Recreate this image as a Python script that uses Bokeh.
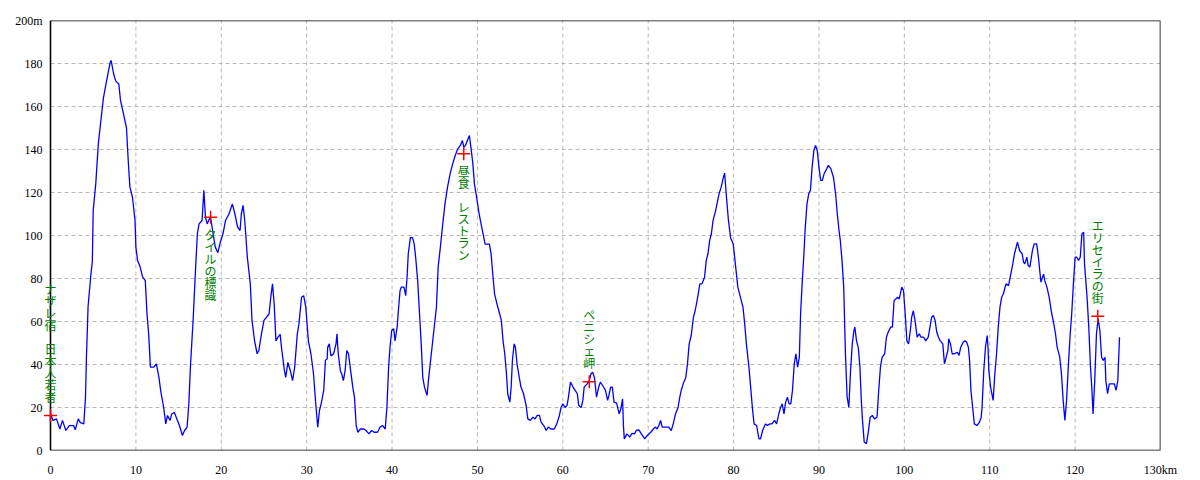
from bokeh.plotting import figure
from bokeh.models import FixedTicker, ColumnDataSource, Range1d
from bokeh.core.properties import value
from bokeh.embed import file_html
from bokeh.resources import INLINE

# ---- data ----
distance_km = [
    0, 0.3, 0.7, 1.1, 1.4, 1.8, 2.2, 2.7, 2.9, 3.25, 3.5, 3.9, 4.1, 4.2, 4.4, 4.7, 4.9, 5.0, 5.3, 5.6,
    5.9, 6.2, 6.5, 6.8, 7.0, 7.1, 7.4, 7.65, 8.0, 8.2, 8.55, 8.9, 9.1, 9.3, 9.6, 9.9, 10.0, 10.2, 10.5, 10.8,
    11.1, 11.3, 11.5, 11.7, 12.1, 12.4, 12.7, 12.9, 13.25, 13.5, 13.7, 14.0, 14.2, 14.5, 14.8, 15.1, 15.45, 15.7, 16.0, 16.2,
    16.4, 16.7, 17.0, 17.2, 17.4, 17.75, 17.96, 18.15, 18.35, 18.7, 18.8, 19.05, 19.3, 19.6, 19.9, 20.2, 20.5, 20.9, 21.3, 21.6,
    21.9, 22.2, 22.35, 22.55, 22.75, 23.05, 23.4, 23.6, 23.9, 24.2, 24.4, 24.7, 25.0, 25.3, 25.6, 25.8, 26.0, 26.2, 26.4, 26.65,
    26.9, 27.05, 27.4, 27.55, 27.8, 28.1, 28.35, 28.6, 28.9, 29.1, 29.4, 29.65, 29.9, 30.2, 30.5, 30.8, 31.1, 31.3, 31.5, 31.7,
    32.0, 32.2, 32.4, 32.46, 32.65, 32.85, 33.16, 33.44, 33.55, 33.7, 33.95, 34.1, 34.3, 34.5, 34.7, 34.9, 35.1, 35.4, 35.6, 35.8,
    36.0, 36.3, 36.7, 36.95, 37.3, 37.6, 37.9, 38.3, 38.6, 38.9, 39.2, 39.4, 39.6, 39.76, 39.96, 40.2, 40.35, 40.6, 40.74, 40.94,
    41.1, 41.4, 41.6, 41.76, 41.9, 42.15, 42.4, 42.6, 42.8, 43.0, 43.2, 43.4, 43.6, 43.8, 44.1, 44.26, 44.6, 44.9, 45.2, 45.4,
    45.66, 45.9, 46.2, 46.5, 46.8, 47.1, 47.4, 47.7, 48.0, 48.24, 48.4, 48.6, 48.9, 49.06, 49.26, 49.45, 49.65, 49.96, 50.2, 50.5,
    50.66, 50.9, 51.4, 51.6, 51.8, 52.0, 52.3, 52.6, 52.8, 53.0, 53.2, 53.4, 53.55, 53.8, 53.95, 54.1, 54.3, 54.45, 54.65, 54.9,
    55.1, 55.4, 55.7, 55.9, 56.2, 56.5, 56.75, 57.0, 57.26, 57.46, 57.77, 58.05, 58.3, 58.6, 59.0, 59.3, 59.6, 59.8, 60.0, 60.27,
    60.5, 60.66, 60.9, 61.2, 61.45, 61.7, 61.86, 62.15, 62.35, 62.5, 62.85, 63.1, 63.3, 63.5, 63.7, 63.95, 64.2, 64.4, 64.7, 65.0,
    65.25, 65.4, 65.6, 65.8, 66.0, 66.3, 66.6, 66.8, 67.0, 67.1, 67.2, 67.5, 67.85, 68.1, 68.4, 68.6, 68.9, 69.2, 69.6, 69.9,
    70.3, 70.6, 70.86, 71.05, 71.25, 71.45, 71.64, 72.0, 72.4, 72.7, 72.93, 73.2, 73.5, 73.7, 73.87, 74.1, 74.4, 74.6, 74.8, 75.04,
    75.3, 75.5, 75.8, 76.05, 76.3, 76.6, 76.8, 77.0, 77.2, 77.4, 77.6, 77.9, 78.1, 78.3, 78.55, 78.8, 78.95, 79.2, 79.4, 79.65,
    79.96, 80.25, 80.5, 80.8, 81.1, 81.3, 81.5, 81.8, 82.0, 82.2, 82.4, 82.7, 82.97, 83.16, 83.4, 83.75, 83.95, 84.26, 84.5, 84.8,
    85.04, 85.3, 85.5, 85.7, 85.9, 86.1, 86.3, 86.5, 86.7, 86.9, 87.1, 87.3, 87.5, 87.7, 87.85, 88.05, 88.24, 88.4, 88.6, 88.8,
    89.0, 89.2, 89.4, 89.6, 89.8, 90.0, 90.2, 90.4, 90.6, 90.9, 91.1, 91.4, 91.7, 91.95, 92.15, 92.35, 92.5, 92.7, 92.9, 93.1,
    93.3, 93.5, 93.7, 93.9, 94.1, 94.2, 94.4, 94.6, 94.8, 94.96, 95.1, 95.3, 95.55, 95.75, 96.0, 96.25, 96.5, 96.8, 97.0, 97.2,
    97.4, 97.7, 97.9, 98.1, 98.4, 98.6, 98.8, 99.0, 99.2, 99.4, 99.7, 99.9, 100.1, 100.3, 100.5, 100.7, 100.86, 101.05, 101.25, 101.5,
    101.75, 101.95, 102.26, 102.5, 102.8, 103.0, 103.2, 103.4, 103.6, 103.8, 104.0, 104.2, 104.5, 104.7, 104.9, 105.1, 105.2, 105.4, 105.6, 105.85,
    106.2, 106.4, 106.6, 106.9, 107.1, 107.3, 107.5, 107.64, 107.8, 108.0, 108.2, 108.5, 108.8, 109.0, 109.1, 109.3, 109.5, 109.7, 109.8, 109.9,
    110.1, 110.4, 110.6, 110.8, 111.0, 111.2, 111.4, 111.6, 111.9, 112.2, 112.4, 112.7, 112.9, 113.25, 113.5, 113.8, 113.96, 114.1, 114.35, 114.5,
    114.7, 115.0, 115.2, 115.5, 115.7, 115.9, 116.0, 116.3, 116.45, 116.7, 116.96, 117.2, 117.5, 117.7, 117.9, 118.2, 118.4, 118.6, 118.8, 119.0,
    119.2, 119.4, 119.6, 119.8, 120.0, 120.2, 120.4, 120.6, 120.8, 121.0, 121.1, 121.4, 121.6, 121.8, 121.95, 122.1, 122.3, 122.5, 122.7, 122.9,
    123.1, 123.3, 123.5, 123.6, 123.8, 124.0, 124.4, 124.6, 124.8, 125.0, 125.2,
]
elevation_m = [
    17, 14, 14.7, 10, 14, 9.3, 11.6, 11.6, 9.6, 14.7, 13, 12.4, 24.8, 42, 67, 80.6, 88, 111.6, 124, 142.6,
    153.5, 164, 170.5, 176.7, 180.6, 181.4, 175, 171.8, 170.5, 162.8, 156.6, 150, 135, 122.5, 117.8, 107, 94.6, 88.4, 85.3, 80.6,
    79, 63.6, 54, 38.8, 38.8, 40.3, 34, 28, 20, 12.4, 16.3, 14, 17, 17.8, 14.7, 11.6, 7, 9.3, 10.9, 21.7,
    40, 60.5, 85.3, 100.8, 105.4, 107, 121, 108.5, 105.4, 108.5, 107, 100.8, 94.6, 92, 97, 100.8, 107, 110, 114.7, 110,
    104, 102.3, 110, 114, 107, 90, 77.5, 60.5, 51, 45, 46.5, 54, 60.5, 62, 63.6, 71.3, 77.5, 68, 51, 52.7,
    54, 48, 37, 34, 41, 37, 32.5, 38.8, 54, 59, 71.3, 72, 66.7, 51, 45, 35.7, 20, 10.8, 18.6, 21.7,
    28, 42, 42.6, 48, 49.6, 44, 45, 49.6, 54.3, 45, 37, 35.7, 32.5, 37, 46.5, 45, 38.8, 29.5, 24.8, 11.6,
    8.5, 10, 10, 9.3, 7.75, 9.3, 8.5, 8.5, 10.9, 11.6, 10, 20, 38.8, 48, 55.8, 56.6, 51, 57.4, 65, 74.4,
    76, 76, 72, 80.6, 91.5, 99, 99, 96, 88.4, 79, 65, 51, 34, 29.5, 25.6, 32.5, 45, 55.8, 66.7, 85.3,
    94.6, 103.9, 114.7, 122.5, 128.7, 133.3, 137.2, 140.3, 141.9, 144.2, 141, 141.9, 145, 146.5, 140.3, 134, 124, 116.3, 110, 104,
    100.8, 96, 96, 91.5, 82, 73, 68, 63.6, 60.5, 51, 45, 35.7, 26.4, 22.5, 29.5, 42, 49.6, 48, 40, 34,
    29.5, 26.4, 21, 14.7, 14, 15.5, 14.7, 16.3, 16.3, 13.2, 11.6, 9.3, 10.9, 10, 10, 12.4, 16.3, 20, 21.7, 20,
    21, 24.8, 31.8, 29.5, 28, 26.4, 21, 20, 23.3, 29.5, 31, 32.5, 35.7, 36.4, 34, 24.8, 29.5, 31.8, 30, 28,
    23.3, 25.6, 29.5, 29.5, 22.5, 22, 17, 19.4, 24, 11.6, 5.4, 7.75, 6.2, 8, 7.75, 9.3, 9.6, 7.75, 5.4, 7,
    8.5, 10, 10.9, 10, 11.6, 14, 10.9, 10.9, 10.9, 9.3, 12.4, 17, 20, 24.8, 28, 31, 34, 40.3, 49.6, 53.5,
    62, 65, 71.3, 77.5, 77.5, 80.6, 88.4, 91.5, 97.7, 100.8, 107, 111.6, 115.5, 119.4, 122.5, 127, 129, 116.3, 107, 99,
    96, 85.3, 76, 71.3, 66.7, 59, 49.6, 38.8, 29.5, 20, 12.4, 11.6, 5.4, 5.4, 9.3, 12.4, 11.6, 12.4, 12.4, 14,
    12.4, 17, 20, 21.7, 17, 22.5, 24.8, 21.7, 21.7, 28, 40, 45, 38.8, 43.4, 63.6, 79, 91.5, 104, 114.7, 119.4,
    121, 131.8, 139.5, 141.9, 139.5, 131.8, 125.6, 125.6, 128.7, 131, 132.6, 131, 127, 119.4, 110, 102.3, 97.7, 88.4, 76, 45,
    24.8, 20, 37, 49.6, 55.8, 57.4, 51, 48, 38.8, 23.3, 14, 3.9, 3.1, 7.75, 15.5, 16.3, 14.7, 15.5, 28, 38.8,
    43.4, 45, 52.7, 55, 57.4, 57.4, 69.8, 70.5, 71.3, 70.5, 76, 74.4, 63.6, 51, 49.6, 55.8, 62, 65, 60.5, 52.7,
    54.3, 52.7, 52.7, 51, 52.7, 57.4, 62, 62.8, 60.5, 55, 52.7, 51, 49.6, 40.3, 43.4, 46.5, 52, 49.6, 45, 45,
    45.7, 44.2, 48, 50.4, 51, 50.4, 48, 41.9, 28, 20, 12.4, 11.6, 13.2, 15.5, 20, 37, 48, 53.5, 48, 37,
    29.5, 23.3, 35.7, 45, 57.4, 66.7, 71.3, 72.9, 77.5, 76.7, 80.6, 86.8, 91.5, 96.9, 93, 91.5, 87.6, 86.8, 89.9, 86,
    85.3, 93, 96.1, 96.1, 89.9, 82, 78.3, 82, 79, 76, 71.3, 65, 59, 54.3, 48, 43.4, 35.7, 23.3, 14, 23.3,
    38.8, 52.7, 63.6, 77.5, 89.9, 89.9, 88.4, 89.9, 100.8, 101.5, 86.8, 71.3, 57.4, 38.8, 29.5, 17, 32.5, 54.3, 61.2, 55.8,
    43.4, 41.9, 43.4, 32.5, 26.4, 31, 31, 31, 28, 32.5, 52.7,
]

marker_km = [0, 18.75, 48.4, 63.1, 122.65]
marker_m = [16.3, 108.5, 138, 32, 62.5]
marker_labels = ["ナザレ宿　日本人若者", "タイルの標識", "昼食　レストラン", "ペニシェ岬", "エリセイラの街"]
label_side = ["up", "down", "down", "up", "up"]

x_ticks = list(range(0, 131, 10))
y_ticks = list(range(0, 201, 20))
x_tick_labels = {t: str(t) for t in x_ticks}
x_tick_labels[130] = "130km"
y_tick_labels = {t: str(t) for t in y_ticks}
y_tick_labels[200] = "200m"

# ---- geometry ----
X0, X1, Y0, Y1 = 0, 130, 0, 200
PW, PH = 1110, 430          # pixel size of the 0..130 x 0..200 box
PAD_L = 7                   # extra frame room at left so the first label is not clipped
px_per_km = PW / (X1 - X0)
XL = X0 - PAD_L / px_per_km

p = figure(frame_width=PW + PAD_L, frame_height=PH,
           min_border_left=50 - PAD_L, min_border_right=30, min_border_top=20, min_border_bottom=28,
           x_range=Range1d(XL, X1), y_range=Range1d(Y0, Y1),
           output_backend="svg", toolbar_location=None,
           background_fill_color="white", border_fill_color="white")

p.outline_line_color = None
p.xgrid.visible = False
p.ygrid.visible = False

for ax in (p.xaxis[0], p.yaxis[0]):
    ax.axis_line_color = None
    ax.major_tick_line_color = None
    ax.minor_tick_line_color = None
    ax.major_label_text_font = "Liberation Sans Narrow"
    ax.major_label_text_font_size = "12px"
    ax.major_label_text_color = "black"
p.xaxis[0].major_label_standoff = 6
p.yaxis[0].major_label_standoff = -5

p.xaxis[0].ticker = FixedTicker(ticks=x_ticks)
p.yaxis[0].ticker = FixedTicker(ticks=y_ticks)
p.xaxis[0].major_label_overrides = x_tick_labels
p.yaxis[0].major_label_overrides = y_tick_labels

# dashed grid, bounded to the data box
inner_x = x_ticks[1:-1]
inner_y = y_ticks[1:-1]
p.segment(x0=inner_x, y0=[Y0] * len(inner_x), x1=inner_x, y1=[Y1] * len(inner_x),
          line_color="#b8b8b8", line_dash="4 3", line_width=1)
p.segment(x0=[X0] * len(inner_y), y0=inner_y, x1=[X1] * len(inner_y), y1=inner_y,
          line_color="#b8b8b8", line_dash="4 3", line_width=1)

# black frame box
p.quad(left=[X0], right=[X1], bottom=[Y0], top=[Y1], fill_color=None,
       line_color="black", line_width=1.6)

p.line(distance_km, elevation_m, line_color="#0000ff", line_width=1.3)

p.scatter(marker_km, marker_m, marker="cross", size=13, line_color="#ff0000", line_width=1.5)

# vertical labels, one character per row
CH = 12
cx, cy, ct, co = [], [], [], []
for km, m, lab, side in zip(marker_km, marker_m, marker_labels, label_side):
    n = len(lab)
    for i, ch in enumerate(lab):
        if side == "down":
            off = 11 + CH / 2 + i * CH
        else:
            off = -(13 + CH / 2 + (n - 1 - i) * CH)
        cx.append(km)
        cy.append(m)
        ct.append(ch)
        co.append(off)
src = ColumnDataSource(dict(x=cx, y=cy, t=ct, o=co))
p.text(x="x", y="y", text="t", y_offset="o", source=src,
       text_font=value("Noto Sans CJK JP"), text_font_size="12px",
       text_color="#008000", text_align="center", text_baseline="middle")

open("out.html", "w").write(file_html(p, INLINE))
